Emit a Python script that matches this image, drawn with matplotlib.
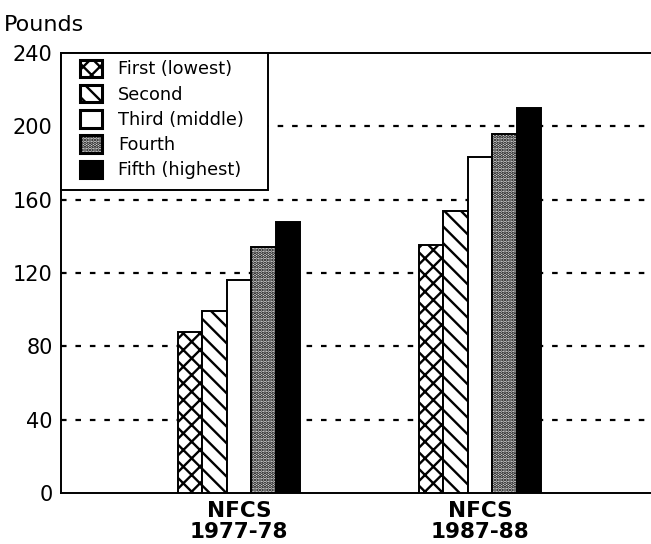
import numpy as np
import matplotlib
matplotlib.use("Agg")
import matplotlib.pyplot as plt
from matplotlib.patches import Rectangle

plt.rcParams['font.family'] = ['DejaVu Sans']
plt.rcParams['hatch.linewidth'] = 1.7

groups = ["NFCS\n1977-78", "NFCS\n1987-88"]
quintiles = ["First (lowest)", "Second", "Third (middle)", "Fourth", "Fifth (highest)"]
pounds = {
    "First (lowest)": [88, 135],
    "Second": [99, 154],
    "Third (middle)": [116, 183],
    "Fourth": [134, 196],
    "Fifth (highest)": [148, 210],
}
yticks = [0, 40, 80, 120, 160, 200, 240]

faces = ["white", "white", "white", "#e0e0e0", "black"]
hatches = ["xx", "\\\\", None, ".....", None]

fig = plt.figure(figsize=(6.51, 5.44), dpi=100)
ax = fig.add_axes([0.0937, 0.0938, 0.9063, 0.8088])

x = np.arange(len(groups))
w = 0.102
for i, q in enumerate(quintiles):
    ax.bar(x + (i - 2) * w, pounds[q], width=w, color=faces[i], hatch=hatches[i],
           edgecolor="black", linewidth=1.4, label=q, zorder=3)

ax.set_xlim(-0.739, 1.71)
ax.set_ylim(0, 240)
ax.set_yticks(yticks)
ax.set_xticks(x)
ax.set_xticklabels(groups, fontsize=15.5, fontweight="bold", linespacing=1.02)
ax.tick_params(axis="y", length=0, pad=6, labelsize=15)
ax.tick_params(axis="x", length=0, pad=6)
for yy in yticks[1:-1]:
    ax.axhline(yy, color="black", linestyle=(0, (2.5, 4)), linewidth=1.6, zorder=1)
ax.spines["right"].set_visible(False)
for s in ["left", "top", "bottom"]:
    ax.spines[s].set_linewidth(1.4)

fig.text(0.006, 0.935, "Pounds", fontsize=16, ha="left", va="bottom")

# legend box drawn separately so padding can differ by side
box = Rectangle((0, 0.689), 0.351, 0.311, transform=ax.transAxes, facecolor="white",
                edgecolor="black", linewidth=1.4, zorder=4, clip_on=False)
ax.add_patch(box)
leg = ax.legend(loc="upper left", bbox_to_anchor=(0.032, 0.985), borderaxespad=0,
                borderpad=0, fontsize=12.8, handlelength=1.24, handleheight=1.15,
                labelspacing=0.36, handletextpad=0.9, frameon=False)
leg.set_zorder(5)
for h in leg.legend_handles:
    h.set_linewidth(2.2)

fig.savefig("out.png", dpi=100)
